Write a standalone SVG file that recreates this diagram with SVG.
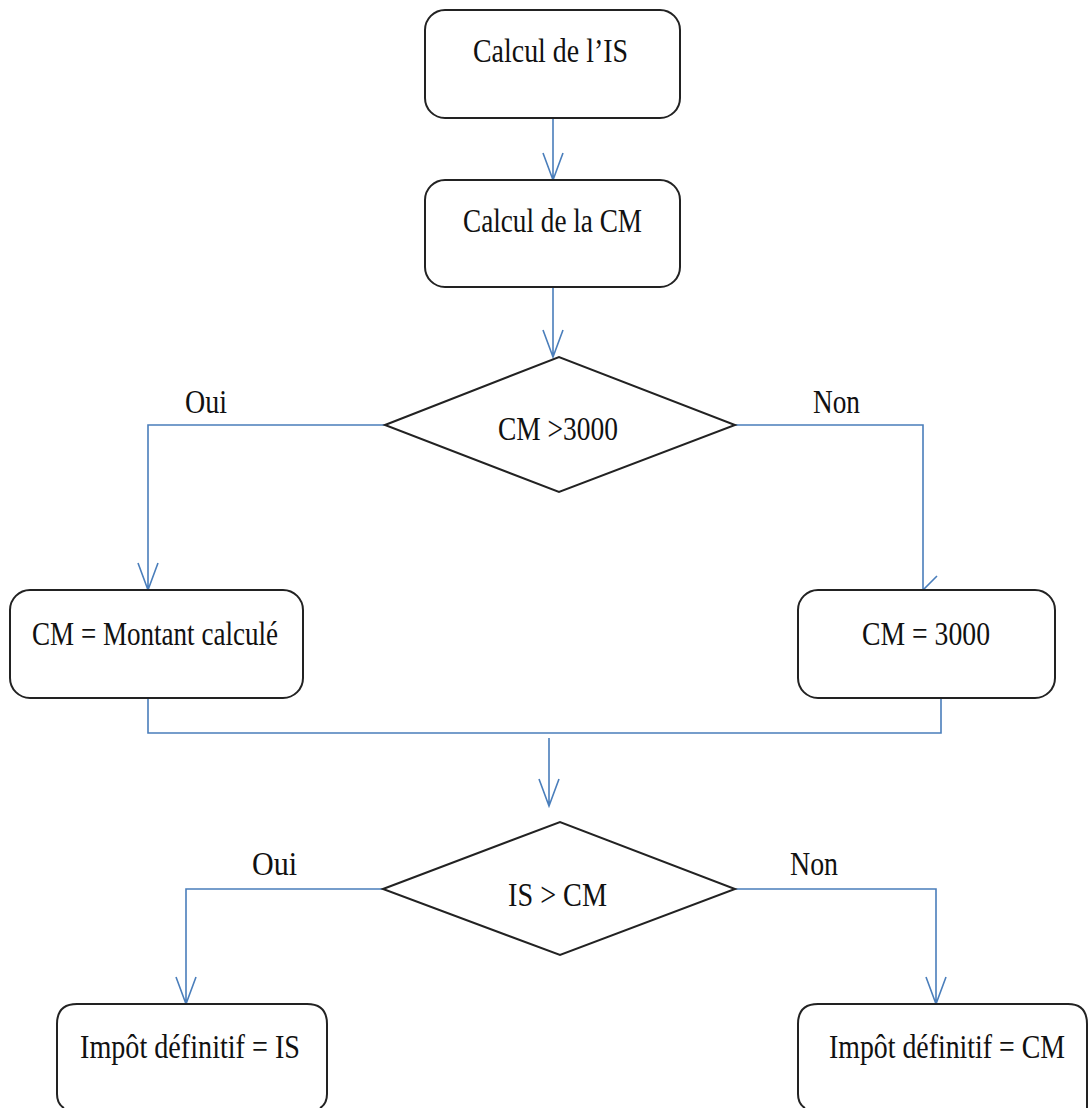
<svg xmlns="http://www.w3.org/2000/svg" width="1091" height="1108" viewBox="0 0 1091 1108">
<style>
.box{fill:#fff;stroke:#222;stroke-width:2}
.t{font-family:"Liberation Serif","Times New Roman",serif;font-size:34px;fill:#111}
.c{fill:none;stroke:#4a7ebb;stroke-width:1.6}
</style>
<rect width="1091" height="1108" fill="#fff"/>
<g id="connectors">
<path class="c" d="M553 118V180M543 153L553 180L563 153"/>
<path class="c" d="M553 287V357M543 330L553 357L563 330"/>
<path class="c" d="M385 425H148V590M138 563L148 590L158 563"/>
<path class="c" d="M735 425H923V590L937 576"/>
<path class="c" d="M148 698V733H941V698"/>
<path class="c" d="M549 738V806M539 779L549 806L559 779"/>
<path class="c" d="M383 889H186V1004M176 977L186 1004L196 977"/>
<path class="c" d="M735 889H936V1004M926 977L936 1004L946 977"/>
<text class="t" x="185" y="413" textLength="42" lengthAdjust="spacingAndGlyphs">Oui</text>
<text class="t" x="813" y="413" textLength="47" lengthAdjust="spacingAndGlyphs">Non</text>
<text class="t" x="252" y="875" textLength="45" lengthAdjust="spacingAndGlyphs">Oui</text>
<text class="t" x="790" y="875" textLength="48" lengthAdjust="spacingAndGlyphs">Non</text>
</g>
<g id="n1"><rect class="box" x="425" y="10" width="255" height="108" rx="20"/>
<text class="t" x="473" y="62" textLength="155" lengthAdjust="spacingAndGlyphs">Calcul de l’IS</text></g>
<g id="n2"><rect class="box" x="425" y="180" width="255" height="107" rx="20"/>
<text class="t" x="463" y="232" textLength="179" lengthAdjust="spacingAndGlyphs">Calcul de la CM</text></g>
<g id="d1"><polygon class="box" points="385,425 559,357 735,425 559,492"/>
<text class="t" x="498" y="440" textLength="120" lengthAdjust="spacingAndGlyphs">CM &gt;3000</text></g>
<g id="n3"><rect class="box" x="10" y="590" width="293" height="108" rx="20"/>
<text class="t" x="32" y="645" textLength="246" lengthAdjust="spacingAndGlyphs">CM = Montant calculé</text></g>
<g id="n4"><rect class="box" x="798" y="590" width="257" height="108" rx="20"/>
<text class="t" x="862" y="645" textLength="128" lengthAdjust="spacingAndGlyphs">CM = 3000</text></g>
<g id="d2"><polygon class="box" points="383,889 560,822 735,889 560,955"/>
<text class="t" x="508" y="906" textLength="99" lengthAdjust="spacingAndGlyphs">IS &gt; CM</text></g>
<g id="n5"><path class="box" d="M64 1108Q57 1104 57 1094V1024Q57 1004 77 1004H307Q327 1004 327 1024V1094Q327 1104 320 1108"/>
<text class="t" x="80" y="1058" textLength="220" lengthAdjust="spacingAndGlyphs">Impôt définitif = IS</text></g>
<g id="n6"><path class="box" d="M805 1108Q798 1104 798 1094V1024Q798 1004 818 1004H1068Q1087 1004 1087 1024V1108"/>
<text class="t" x="829" y="1058" textLength="236" lengthAdjust="spacingAndGlyphs">Impôt définitif = CM</text></g>
</svg>
